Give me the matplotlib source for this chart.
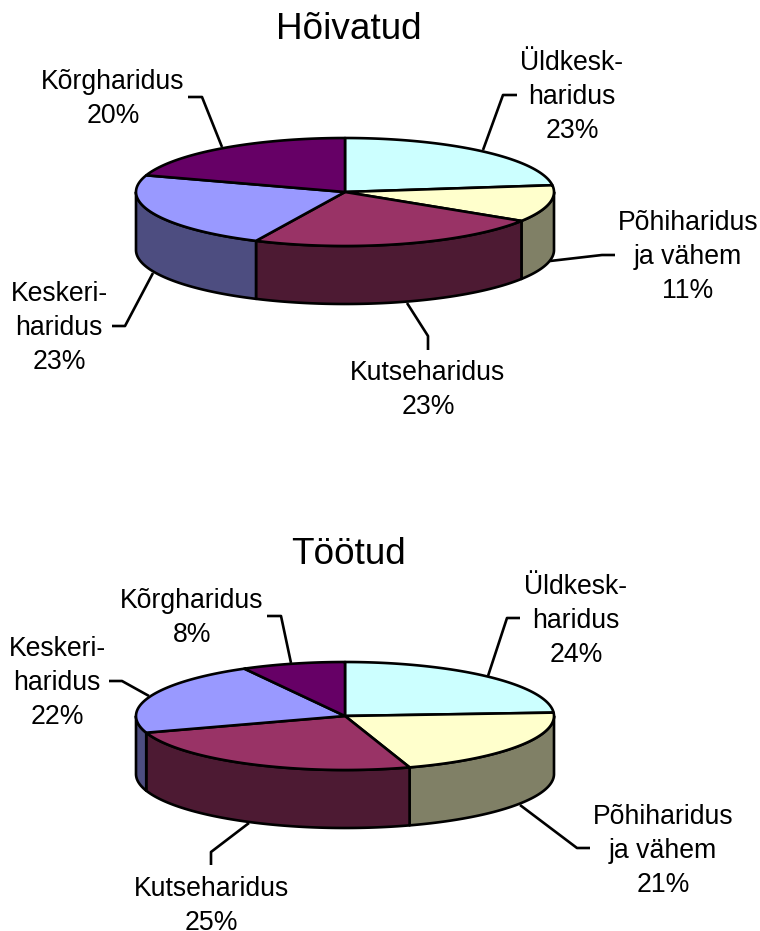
import numpy as np
import matplotlib

matplotlib.use("Agg")
import matplotlib.pyplot as plt
from matplotlib.patches import Polygon

plt.rcParams["font.family"] = ["Liberation Sans", "DejaVu Sans"]

# data, clockwise from 12 o'clock
categories = [["Üldkesk-", "haridus"], ["Põhiharidus", "ja vähem"], ["Kutseharidus"],
              ["Keskeri-", "haridus"], ["Kõrgharidus"]]
hoivatud = [23, 11, 23, 23, 20]
tootud = [24, 21, 25, 22, 8]

top_colors = ["#CCFFFF", "#FFFFCC", "#993366", "#9999FF", "#660066"]
side_colors = ["#666680", "#808066", "#4D1A33", "#4D4D80", "#330033"]

RX, RY, DEPTH = 209, 54, 58
LW = 1.9
LINE_H = 33.8

# layout in pixels: label centre x, first baseline y, then the leader line
hoivatud_layout = [
    (572, 70, [(517, 95), (503, 95), (483, 150)]),
    (688, 230, [(615, 255), (602, 255), (550, 261)]),
    (428, 380, [(428, 350), (428, 336), (407, 303)]),
    (59, 301, [(112, 326), (125, 326), (153, 273)]),
    (113, 89, [(188, 97), (202, 97), (222, 147)]),
]
tootud_layout = [
    (576, 594, [(520, 618), (507, 618), (488, 676)]),
    (663, 824, [(590, 848), (577, 848), (520, 805)]),
    (211, 896, [(211, 865), (211, 852), (249, 823)]),
    (57, 656, [(109, 681), (122, 681), (149, 696)]),
    (192, 608, [(267, 616), (281, 616), (291, 663)]),
]


def arc(cx, cy, a0, a1, n=80):
    t = np.radians(np.linspace(a0, a1, n))
    return np.column_stack([cx + RX * np.sin(t), cy - RY * np.cos(t)])


def draw_pie(ax, values, cx, cy, title, title_y, layout):
    edges = np.cumsum([0] + values) * 3.6

    # front wall, only the part between 90 and 270 degrees shows
    for i in range(len(values)):
        a0, a1 = max(edges[i], 90), min(edges[i + 1], 270)
        if a1 <= a0:
            continue
        upper = arc(cx, cy, a0, a1)
        lower = arc(cx, cy + DEPTH, a0, a1)[::-1]
        ax.add_patch(Polygon(np.vstack([upper, lower]), closed=True, fc=side_colors[i],
                             ec="black", lw=LW, joinstyle="round"))

    for i in range(len(values)):
        pts = np.vstack([[(cx, cy)], arc(cx, cy, edges[i], edges[i + 1])])
        ax.add_patch(Polygon(pts, closed=True, fc=top_colors[i], ec="black", lw=LW,
                             joinstyle="round"))

    ax.text(cx + 4, title_y, title, fontsize=26.6, ha="center", va="baseline")

    for cat, val, (x, y, leader) in zip(categories, values, layout):
        for j, line in enumerate(cat + [f"{val}%"]):
            ax.text(x, y + j * LINE_H, line, fontsize=19.2, ha="center", va="baseline")
        xs, ys = zip(*leader)
        ax.plot(xs, ys, color="black", lw=LW, solid_joinstyle="round", solid_capstyle="butt")


def main() -> None:
    fig = plt.figure(figsize=(7.6, 9.31), dpi=100, facecolor="white")
    ax = fig.add_axes([0, 0, 1, 1])
    ax.set_xlim(0, 760)
    ax.set_ylim(931, 0)
    ax.axis("off")

    draw_pie(ax, hoivatud, 345, 192, "Hõivatud", 39, hoivatud_layout)
    draw_pie(ax, tootud, 345, 716, "Töötud", 564, tootud_layout)

    fig.savefig("out.png", dpi=100, facecolor="white")
    plt.close(fig)


if __name__ == "__main__":
    main()
